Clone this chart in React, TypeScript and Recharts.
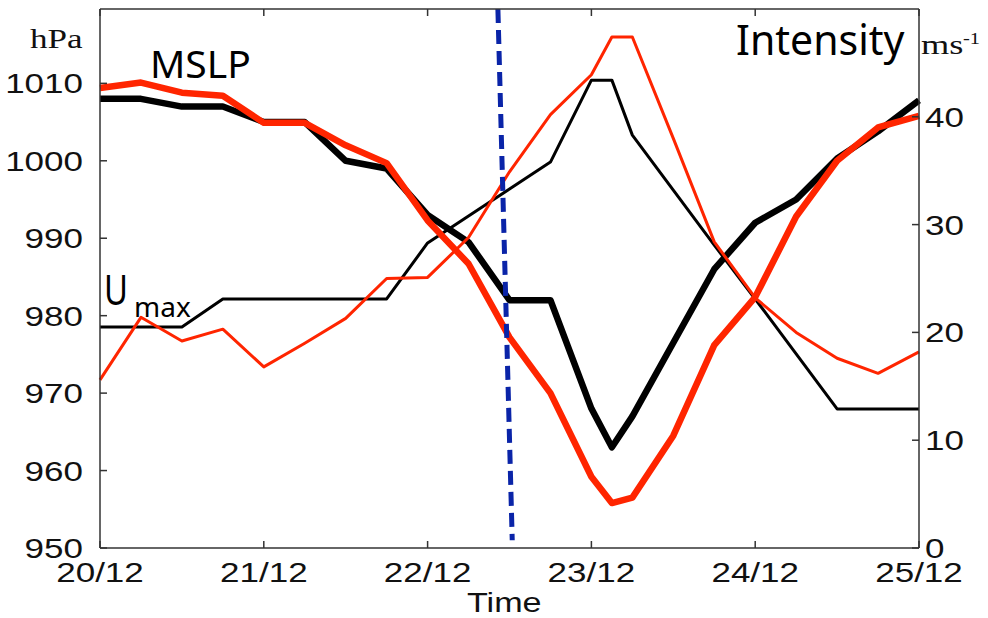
import { Line, LineChart, ReferenceLine, XAxis, YAxis } from "recharts";

// hours since 20/12 00 UTC (a 3-hourly point near the peak)
const hours = [0, 6, 12, 18, 24, 30, 36, 42, 48, 54, 60, 66, 72, 75, 78, 84, 90, 96, 102, 108, 114, 120];
const mslpObs = [1008, 1008, 1007, 1007, 1005, 1005, 1000, 999, 993, 989.5, 982, 982, 968, 963, 967, 976.5, 986, 992, 995, 1000.3, 1003.8, 1007.8];
const mslpSim = [1009.4, 1010.1, 1008.8, 1008.4, 1004.9, 1004.9, 1002, 999.7, 992.3, 986.7, 977.2, 970, 959.2, 955.8, 956.5, 964.5, 976.2, 982.4, 992.8, 1000, 1004.3, 1005.8];
const umaxObs = [20.5, 20.5, 20.5, 23.1, 23.1, 23.1, 23.1, 23.1, 28.3, 30.8, 33.3, 35.8, 43.4, 43.4, 38.3, 33.2, 28.1, 23.1, 18, 12.9, 12.9, 12.9];
const umaxSim = [15.6, 21.4, 19.2, 20.3, 16.8, 19, 21.3, 25, 25.1, 28.8, 34.9, 40.2, 43.9, 47.4, 47.4, 38, 28.4, 23.2, 20, 17.6, 16.2, 18.2];

const dayTicks = [0, 24, 48, 72, 96, 120];
const dayLabels = ["20/12", "21/12", "22/12", "23/12", "24/12", "25/12"];
const pressureTicks = [950, 960, 970, 980, 990, 1000, 1010];
const speedTicks = [0, 10, 20, 30, 40];
// landfall marker (slightly slanted dashed line)
const landfall = [
  { x: 58.3, y: 1019.6 },
  { x: 60.4, y: 951 },
];

const data = hours.map((h, i) => ({
  h,
  mslpObs: mslpObs[i],
  mslpSim: mslpSim[i],
  umaxObs: umaxObs[i],
  umaxSim: umaxSim[i],
}));

const RED = "#ff2500";
const AXIS = "#333";
const SANS = "'Liberation Sans', Arial, sans-serif";
const SERIF = "'Liberation Serif', 'Times New Roman', serif";
const CALIBRI = "'Noto Sans', 'Open Sans', sans-serif";

function StretchTick(props: any) {
  const { x, y, payload, anchor, dy, days } = props;
  const value = days ? dayLabels[dayTicks.indexOf(payload.value)] : payload.value;
  return (
    <text
      transform={`translate(${x},${y}) scale(1.25,1)`}
      textAnchor={anchor}
      dy={dy}
      fontSize={28}
      fontFamily={SANS}
      fill="#111"
    >
      {value}
    </text>
  );
}

const NoTick = () => <g />;

export default function App() {
  return (
    <div style={{ position: "absolute", left: 0, top: 0, width: 988, height: 618 }}>
      <LineChart width={988} height={618} data={data} margin={{ top: 0, right: 0, bottom: 0, left: 0 }}>
        <XAxis
          xAxisId="main"
          dataKey="h"
          type="number"
          domain={[0, 120]}
          ticks={dayTicks}
          height={70}
          tickSize={-7}
          tickMargin={41}
          stroke={AXIS}
          strokeWidth={1.5}
          tick={(p: any) => <StretchTick {...p} anchor="middle" dy={0} days />}
        />
        <XAxis
          xAxisId="top"
          orientation="top"
          dataKey="h"
          type="number"
          domain={[0, 120]}
          ticks={dayTicks}
          height={9}
          tickSize={-7}
          stroke={AXIS}
          strokeWidth={1.5}
          tick={NoTick}
        />
        <YAxis
          yAxisId="left"
          domain={[950, 1019.6]}
          ticks={pressureTicks}
          width={100}
          tickSize={-7}
          tickMargin={24}
          stroke={AXIS}
          strokeWidth={1.5}
          allowDataOverflow
          tick={(p: any) => <StretchTick {...p} anchor="end" dy="0.36em" />}
        />
        <YAxis
          yAxisId="right"
          orientation="right"
          domain={[0, 50]}
          ticks={speedTicks}
          width={69}
          tickSize={-7}
          tickMargin={13}
          stroke={AXIS}
          strokeWidth={1.5}
          allowDataOverflow
          tick={(p: any) => <StretchTick {...p} anchor="start" dy="0.36em" />}
        />
        <Line
          xAxisId="main"
          yAxisId="left"
          dataKey="mslpObs"
          stroke="#000"
          strokeWidth={6.5}
          strokeLinejoin="round"
          dot={false}
          isAnimationActive={false}
        />
        <Line
          xAxisId="main"
          yAxisId="right"
          dataKey="umaxObs"
          stroke="#000"
          strokeWidth={3}
          strokeLinejoin="round"
          dot={false}
          isAnimationActive={false}
        />
        <Line
          xAxisId="main"
          yAxisId="left"
          dataKey="mslpSim"
          stroke={RED}
          strokeWidth={6.5}
          strokeLinejoin="round"
          dot={false}
          isAnimationActive={false}
        />
        <Line
          xAxisId="main"
          yAxisId="right"
          dataKey="umaxSim"
          stroke={RED}
          strokeWidth={3}
          strokeLinejoin="round"
          dot={false}
          isAnimationActive={false}
        />
        <ReferenceLine
          xAxisId="main"
          yAxisId="left"
          segment={landfall}
          stroke="#0a24a8"
          strokeWidth={5}
          strokeDasharray="14 7"
          ifOverflow="visible"
        />
      </LineChart>
      <svg
        width={988}
        height={618}
        style={{ position: "absolute", left: 0, top: 0, pointerEvents: "none" }}
      >
        <text transform="translate(30,48) scale(1.3,1)" fontFamily={SERIF} fontSize={27} fill="#111">
          hPa
        </text>
        <text transform="translate(921,54) scale(1.3,1)" fontFamily={SERIF} fontSize={28} fill="#111">
          ms
        </text>
        <text transform="translate(963,44) scale(1.2,1)" fontFamily={SERIF} fontSize={17} fill="#111">
          -1
        </text>
        <text x={150} y={78} fontFamily={CALIBRI} fontSize={39} fill="#000">
          MSLP
        </text>
        <text x={736} y={55} fontFamily={CALIBRI} fontSize={41} fill="#000">
          Intensity
        </text>
        <text transform="translate(104,305) scale(0.8,1)" fontFamily={CALIBRI} fontSize={41} fill="#000">
          U
        </text>
        <text x={134} y={317} fontFamily={CALIBRI} fontSize={28} fill="#000">
          max
        </text>
        <text transform="translate(467,612) scale(1.22,1)" fontFamily={SANS} fontSize={28} fill="#111">
          Time
        </text>
      </svg>
    </div>
  );
}
